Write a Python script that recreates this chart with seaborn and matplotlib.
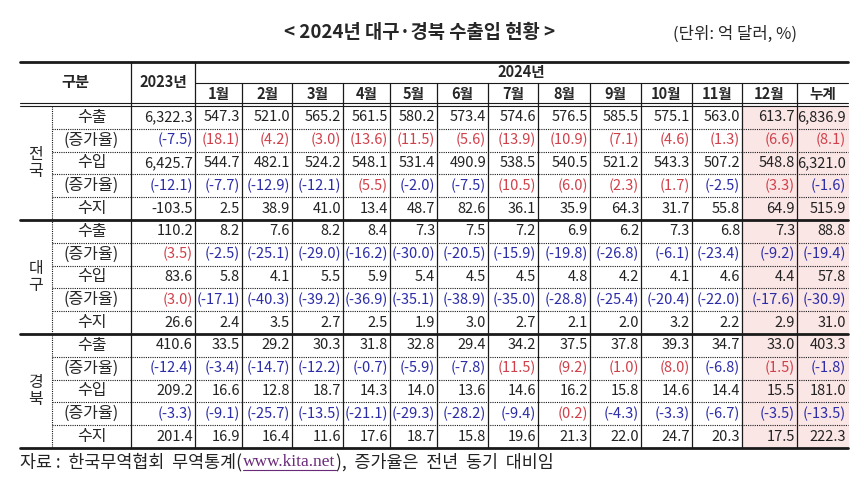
import matplotlib
matplotlib.use("Agg")
import matplotlib.pyplot as plt
import seaborn as sns
import numpy as np
from matplotlib.patches import Rectangle

sns.set_theme(style="white")
plt.rcParams['font.family'] = ['Noto Sans CJK KR', 'DejaVu Sans']

regions = ["전\n국", "대\n구", "경\n북"]
items = ["수출", "(증가율)", "수입", "(증가율)", "수지"]
col_labels = ["1월", "2월", "3월", "4월", "5월", "6월", "7월", "8월", "9월", "10월", "11월", "12월", "누계"]

# each row: 2023, Jan..Dec, cumulative
nat_exp = [6322.3, 547.3, 521.0, 565.2, 561.5, 580.2, 573.4, 574.6, 576.5, 585.5, 575.1, 563.0, 613.7, 6836.9]
nat_exp_g = [-7.5, 18.1, 4.2, 3.0, 13.6, 11.5, 5.6, 13.9, 10.9, 7.1, 4.6, 1.3, 6.6, 8.1]
nat_imp = [6425.7, 544.7, 482.1, 524.2, 548.1, 531.4, 490.9, 538.5, 540.5, 521.2, 543.3, 507.2, 548.8, 6321.0]
nat_imp_g = [-12.1, -7.7, -12.9, -12.1, 5.5, -2.0, -7.5, 10.5, 6.0, 2.3, 1.7, -2.5, 3.3, -1.6]
nat_bal = [-103.5, 2.5, 38.9, 41.0, 13.4, 48.7, 82.6, 36.1, 35.9, 64.3, 31.7, 55.8, 64.9, 515.9]

dg_exp = [110.2, 8.2, 7.6, 8.2, 8.4, 7.3, 7.5, 7.2, 6.9, 6.2, 7.3, 6.8, 7.3, 88.8]
dg_exp_g = [3.5, -2.5, -25.1, -29.0, -16.2, -30.0, -20.5, -15.9, -19.8, -26.8, -6.1, -23.4, -9.2, -19.4]
dg_imp = [83.6, 5.8, 4.1, 5.5, 5.9, 5.4, 4.5, 4.5, 4.8, 4.2, 4.1, 4.6, 4.4, 57.8]
dg_imp_g = [3.0, -17.1, -40.3, -39.2, -36.9, -35.1, -38.9, -35.0, -28.8, -25.4, -20.4, -22.0, -17.6, -30.9]
dg_bal = [26.6, 2.4, 3.5, 2.7, 2.5, 1.9, 3.0, 2.7, 2.1, 2.0, 3.2, 2.2, 2.9, 31.0]

gb_exp = [410.6, 33.5, 29.2, 30.3, 31.8, 32.8, 29.4, 34.2, 37.5, 37.8, 39.3, 34.7, 33.0, 403.3]
gb_exp_g = [-12.4, -3.4, -14.7, -12.2, -0.7, -5.9, -7.8, 11.5, 9.2, 1.0, 8.0, -6.8, 1.5, -1.8]
gb_imp = [209.2, 16.6, 12.8, 18.7, 14.3, 14.0, 13.6, 14.6, 16.2, 15.8, 14.6, 14.4, 15.5, 181.0]
gb_imp_g = [-3.3, -9.1, -25.7, -13.5, -21.1, -29.3, -28.2, -9.4, 0.2, -4.3, -3.3, -6.7, -3.5, -13.5]
gb_bal = [201.4, 16.9, 16.4, 11.6, 17.6, 18.7, 15.8, 19.6, 21.3, 22.0, 24.7, 20.3, 17.5, 222.3]

data = [nat_exp, nat_exp_g, nat_imp, nat_imp_g, nat_bal,
        dg_exp, dg_exp_g, dg_imp, dg_imp_g, dg_bal,
        gb_exp, gb_exp_g, gb_imp, gb_imp_g, gb_bal]

fig = plt.figure(figsize=(8.64, 4.82), dpi=100)
ax = fig.add_axes([0, 0, 1, 1])
ax.set_xlim(0, 864)
ax.set_ylim(482, 0)
ax.axis("off")

RED = "#d0404a"
BLUE = "#2c2ca8"
xe = [20, 52, 131, 195, 242, 292, 343, 390, 437, 488, 538, 590, 641, 692, 742, 797, 848]
top, mid, hdr = 62, 83, 105
y0, rh = 106, 22.8
ybot = y0 + 15 * rh

for c in (14, 15):
    ax.add_patch(Rectangle((xe[c], y0), xe[c + 1] - xe[c], 15 * rh, color="#fbe6e6", zorder=0))

ax.text(420, 33, "< 2024년 대구·경북 수출입 현황 >", ha="center", va="center", fontsize=13.5, fontweight="bold")
ax.text(735, 34, "(단위: 억 달러, %)", ha="center", va="center", fontsize=12)

ax.plot([xe[0], xe[-1]], [top, top], color="k", lw=2)
ax.plot([xe[3], xe[-1]], [mid, mid], color="k", lw=0.8)
ax.plot([xe[0], xe[-1]], [hdr - 2, hdr - 2], color="k", lw=0.8)
ax.plot([xe[0], xe[-1]], [hdr + 1, hdr + 1], color="k", lw=0.8)
for r in range(1, 15):
    y = y0 + r * rh
    if r % 5 == 0:
        ax.plot([xe[0], xe[-1]], [y, y], color="k", lw=2)
    else:
        ax.plot([xe[1], xe[-1]], [y, y], color="k", lw=0.8, ls=(0, (1, 1)))
ax.plot([xe[0], xe[-1]], [ybot, ybot], color="k", lw=2)

ax.plot([xe[1], xe[1]], [y0, ybot], color="k", lw=0.8, ls=(0, (1, 1)))
for i in range(2, 16):
    yt = top if i in (2, 3) else mid
    ax.plot([xe[i], xe[i]], [yt, ybot], color="k", lw=0.9)

ax.text((xe[0] + xe[2]) / 2, 82, "구분", ha="center", va="center", fontsize=11, fontweight="bold")
ax.text((xe[2] + xe[3]) / 2, 82, "2023년", ha="center", va="center", fontsize=10.5, fontweight="bold")
ax.text((xe[3] + xe[-1]) / 2, 72, "2024년", ha="center", va="center", fontsize=10.5, fontweight="bold")
for j, lab in enumerate(col_labels):
    ax.text((xe[3 + j] + xe[4 + j]) / 2, 94, lab, ha="center", va="center", fontsize=10.5, fontweight="bold")

for g, reg in enumerate(regions):
    yc = y0 + (g * 5 + 2.5) * rh
    ax.text((xe[0] + xe[1]) / 2, yc, reg, ha="center", va="center", fontsize=11.5, linespacing=1.0)
for r in range(15):
    yc = y0 + (r + 0.5) * rh
    ax.text((xe[1] + xe[2]) / 2, yc, items[r % 5], ha="center", va="center", fontsize=11.5)
    is_rate = (r % 5) in (1, 3)
    for j, v in enumerate(data[r]):
        xr = xe[j + 3] - 2
        if is_rate:
            s = f"({v:.1f})"
            col = RED if v >= 0 else BLUE
        else:
            s = f"{v:,.1f}"
            col = "#222222"
        ax.text(xr, yc, s, ha="right", va="center", fontsize=10.5, color=col)

# footnote, chained pieces
fig.canvas.draw()
renderer = fig.canvas.get_renderer()
inv = ax.transData.inverted()
x = 20.0
fy = 462
pieces = [("자료 :  한국무역협회  무역통계(", "#222222", None),
          ("www.kita.net", "#6a2a7a", "Liberation Serif"),
          ("),  증가율은  전년  동기  대비임", "#222222", None)]
for s, col, fam in pieces:
    kw = {"family": fam} if fam else {}
    t = ax.text(x, fy, s, ha="left", va="center", fontsize=12.5, color=col, **kw)
    bb = t.get_window_extent(renderer)
    (x0d, _), (x1d, _) = inv.transform([(bb.x0, 0), (bb.x1, 0)])
    if fam:
        ax.plot([x0d, x1d], [fy + 8, fy + 8], color=col, lw=0.8)
    x = x1d + 1

fig.savefig("out.png", dpi=100)
